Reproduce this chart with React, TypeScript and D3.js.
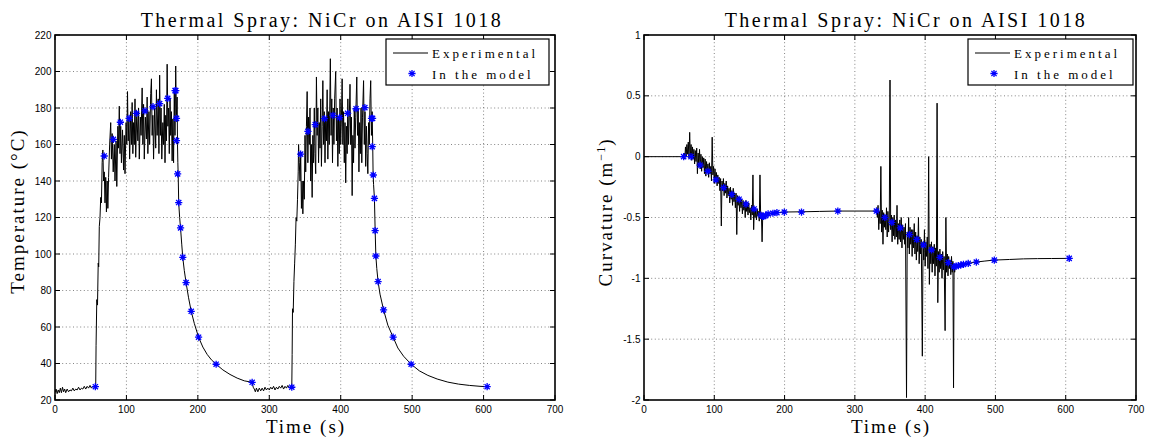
import React from "react";
import * as d3 from "d3";

type P = [number, number];

// ---------- tick values ----------
const timeTicks = [0, 100, 200, 300, 400, 500, 600, 700];
const tempTicks = [20, 40, 60, 80, 100, 120, 140, 160, 180, 200, 220];
const curvTicks = [-2, -1.5, -1, -0.5, 0, 0.5, 1];

// ---------- temperature, experimental (time s, °C) ----------
const tempBase1: P[] = [[0,24],[1.5,26],[3,23.5],[4.5,25.5],[6,24],[7.5,26.5],[9,24],[10.5,27],[12,24.5],[13.5,26],[15,24],[17,26],[19,24.5],[21,25.5],[23,25],[25,26.5],[27,25],[29,26],[31,25.5],[33,27],[35,25.5],[37,26.5],[39,26],[41,27.5],[43,26],[45,27.5],[47,26.5],[49,28],[51,26.5],[53,27.5],[55,27],[57,27.5]];
const tempHeat1: P[] = [[57.5,50],[58.5,75],[59.5,72],[60.5,95],[61.2,93],[62,115],[63,120],[64,131],[65,128],[66,150],[67,157],[68,140],[69,145],[70,128],[71,142],[72,123],[73,140],[74,125],[75,142],[76.5,160],[78,172],[79,152],[80,166],[81.5,145],[83,160],[84,140],[85.5,162],[86.5,137],[88,170],[89,158],[90,181],[91,155],[92,170],[93,150],[94.5,168],[96,146],[97,165],[98,144],[99.5,172],[100.5,160],[101.5,189],[102.5,162],[103.5,175],[104.5,152],[106,178],[107,160],[108,183],[109,155],[110,172],[111,160],[112,185],[113,153],[114.5,178],[116,162],[117,180],[118,152],[119.5,175],[120.5,165],[122,191],[123,160],[124,182],[125,152],[126.5,175],[128,163],[129,186],[130,155],[131.5,178],[132.5,160],[134,188],[135,196],[136,165],[137,176],[138,152],[139.5,180],[141,158],[142,190],[143,165],[144.5,185],[145.5,155],[146.5,198],[147.5,165],[148.5,180],[149.5,152],[151,172],[152,160],[153,182],[154,150],[155,176],[156,162],[157,204],[158,170],[159,180],[160,155],[161,185],[162,165],[163,178],[164,151],[165,174],[166,150],[167,190],[168,165],[169,203],[170,175],[171,186]];
const tempCool1: P[] = [[171.5,160],[172,150],[172.5,143],[173.2,128],[174.5,120],[175.8,114],[177.5,105],[178.9,98],[181,91],[183.5,84.3],[187,76],[190.7,68.6],[195,62],[201,54.4],[207,49],[213,45],[219,42],[225.6,39.6],[235,36.5],[245,34],[255,32],[265,30.5],[276,29.7],[277.5,27]];
const tempBase2: P[] = [[279,26],[280.5,24.5],[282,26.5],[284,24.5],[286,26.5],[288,25],[290,26.5],[292,25],[294,27],[296,25.5],[298,26.5],[300,25.5],[302,27],[304,26],[306,27.5],[308,25.5],[310,27],[312,26],[314,27.5],[316,26.5],[318,28],[320,26],[322,27.5],[324,26.5],[326,28],[328,26.5],[330,27.5],[331.5,27]];
const tempHeat2: P[] = [[332,45],[332.5,70],[333.5,68],[334.5,85],[335.5,95],[336.5,105],[337.5,120],[338.5,118],[339.5,130],[340.5,145],[341,160],[342,150],[343,140],[344,155],[345,125],[346,140],[347,122],[348,140],[349,130],[350,165],[351,145],[352,170],[353,189],[354,150],[355,175],[356,160],[357,180],[358,140],[359,160],[360,131],[361,165],[362,150],[363,180],[364,155],[365,144],[366,197],[367,165],[368,180],[369,150],[370,172],[371,158],[372,185],[373,148],[374,170],[375,195],[376,160],[377,178],[378,150],[379,175],[380,162],[381,190],[382,152],[383,178],[384,160],[385.5,207],[386.5,165],[387.5,185],[388.5,150],[389.5,180],[390.5,160],[391.5,185],[393,200],[394,162],[395,180],[396,148],[397,175],[398,155],[399,185],[400,160],[401,175],[402,196],[403,160],[404,178],[405,150],[406,172],[407,139],[408,170],[409,155],[410,185],[411,160],[412,175],[413,193],[414,160],[415,175],[416,132],[417,165],[418,150],[419,180],[420,158],[421,175],[422.5,197],[423.5,165],[424.5,180],[425.5,145],[426.5,172],[427.5,155],[428.5,180],[429.5,150],[430.5,175],[432,195],[433,160],[434,178],[435,148],[436,170],[437,155],[438,144],[439,172],[440,160],[441,185],[442,195],[443,165],[444,178],[444.8,160]];
const tempCool2: P[] = [[445.3,145],[446,138],[447.2,130.5],[448.2,113],[449.2,99],[450.5,92],[452.3,85],[455,78],[460,69.4],[466,61],[473.4,54.4],[480,48.5],[488,44],[498.6,39.6],[510,36],[522,33.5],[535,31.5],[550,29.8],[565,28.7],[580,28],[595,27.5],[605,27.3]];

// ---------- temperature, model points ----------
const tempModel: P[] = [[56.5,27.3],[68.9,153.7],[81.7,162.8],[91.5,172.2],[103.8,174.3],[114.1,177.1],[125.9,178.4],[137.2,180.7],[146.5,182.4],[157.8,185.3],[168.1,189.5],[169.1,189.5],[170.1,174.3],[170.1,162.1],[171.7,143.9],[173.2,128.2],[175.8,114.3],[178.9,98.2],[183.5,84.3],[190.7,68.6],[201,54.4],[225.6,39.6],[276,29.7],[331.5,27],[343.9,154.7],[354.1,167.2],[364.4,170.9],[377.3,174.2],[389.1,176],[398.4,174.7],[409.7,177.1],[421.5,179.6],[433.8,180.2],[443.1,174.3],[444.6,174.3],[444.1,158.8],[445.6,143.3],[447.2,130.5],[448.2,112.8],[449.2,98.9],[452.3,84.9],[460,69.4],[473.4,54.4],[498.6,39.6],[605,27.3]];

// ---------- curvature, experimental (time s, 1/m) ----------
const curvFlat: P[] = [[0,0],[20,0],[40,0],[56,0]];
const curvNoise1: P[] = [[57,0.03],[58,-0.02],[59,0.08],[60,0],[61,0.1],[62,0.02],[63,0.12],[64,-0.01],[65,0.2],[66,0],[67,0.1],[68,-0.03],[69,0.08],[70,-0.02],[71,0.06],[72,-0.06],[73,0.05],[74,-0.04],[75,0.07],[76,-0.14],[77,0.03],[78,-0.08],[79,0.06],[80,-0.1],[81,0.02],[82,-0.12],[83,0],[84,-0.09],[85,-0.01],[86,-0.14],[87,-0.02],[88,-0.16],[89,-0.04],[90,-0.12],[91,-0.06],[92,-0.17],[93,-0.05],[94,-0.14],[95,-0.08],[96,-0.2],[97,0.16],[98,-0.15],[99,-0.08],[100,-0.22],[101,-0.1],[102,-0.2],[103,-0.13],[104,-0.24],[105,-0.15],[106,-0.22],[107,-0.17],[108,-0.28],[109,-0.18],[110,-0.57],[111,-0.2],[112,-0.28],[113,-0.18],[114,-0.32],[115,-0.22],[116,-0.3],[117,-0.2],[118,-0.34],[119,-0.24],[120,-0.32],[121,-0.26],[122,-0.38],[123,-0.25],[124,-0.35],[125,-0.28],[126,-0.4],[127,-0.26],[128,-0.37],[129,-0.3],[130,-0.42],[131,-0.3],[132,-0.64],[133,-0.32],[134,-0.4],[135,-0.33],[136,-0.45],[137,-0.34],[138,-0.42],[139,-0.35],[140,-0.47],[141,-0.36],[142,-0.44],[143,-0.38],[144,-0.5],[145,-0.36],[146,-0.45],[147,-0.4],[148,-0.48],[149,-0.38],[150,-0.46],[151,-0.42],[152,-0.52],[153,-0.4],[154,-0.48],[155,-0.15],[156,-0.6],[157,-0.42],[158,-0.5],[159,-0.44],[160,-0.52],[161,-0.43],[162,-0.49],[163,-0.45],[164,-0.53],[165,-0.15],[166,-0.5],[167,-0.46],[168,-0.7],[169,-0.47],[170,-0.5],[171,-0.48],[172,-0.49]];
const curvRelax1: P[] = [[175,-0.475],[180,-0.468],[190,-0.46],[200,-0.455],[225,-0.453],[250,-0.45],[276,-0.447],[300,-0.447],[330,-0.447]];
const curvNoise2: P[] = [[331,-0.42],[332,-0.5],[333,-0.4],[334,-0.6],[335,-0.45],[336,-0.55],[337,-0.08],[338,-0.62],[339,-0.44],[340,-0.72],[341,-0.46],[342,-0.58],[343,-0.48],[344,-0.6],[345,-0.42],[346,-0.66],[347,-0.45],[348,-0.62],[349,-0.5],[350,0.63],[351,-0.6],[352,-0.48],[353,-0.7],[354,-0.5],[355,-0.65],[356,-0.48],[357,-0.68],[358,-0.52],[359,-0.66],[360,-0.4],[361,-0.72],[362,-0.55],[363,-0.68],[364,-0.52],[365,-0.7],[366,-0.5],[367,-0.75],[368,-0.56],[369,-0.68],[370,-0.58],[371,-0.72],[372,-0.55],[373.5,-1.98],[374.5,-0.62],[375.5,-0.75],[376.5,-0.5],[377.5,-0.8],[378.5,-0.58],[379.5,-0.72],[380.5,-0.6],[381.5,-0.82],[382.5,-0.6],[383.5,-0.75],[384.5,-0.55],[385.5,-0.8],[386.5,-0.62],[387.5,-0.85],[388.5,-0.65],[389.5,-0.78],[390.5,-0.5],[391.5,-0.88],[392.5,-0.66],[393.5,-0.8],[394.5,-0.68],[396,-1.64],[397,-0.7],[398,-0.85],[399,-0.6],[400,-0.9],[401,-0.7],[402,-0.82],[403,-0.66],[404,-0.92],[405,0],[406,-1.05],[407,-0.72],[408,-0.88],[409,-0.7],[410,-0.95],[411,-0.74],[412,-0.88],[413,-0.72],[414,-0.98],[415,-0.75],[416,-0.9],[417,0.44],[418,-1.2],[419,-0.78],[420,-0.95],[421,-0.76],[422,-0.92],[423,-0.8],[424,-1.0],[425,-0.78],[426,-0.93],[427,-0.82],[428.4,-1.43],[429.5,-0.5],[430.5,-0.95],[431.5,-0.8],[432.5,-0.98],[433.5,-0.82],[434.5,-0.92],[435.5,-0.85],[436.5,-0.97],[437.5,-0.82],[438.5,-0.95],[439.5,-0.86],[440.4,-1.9],[441.2,-0.88],[442,-0.95],[443,-0.9],[444,-0.91]];
const curvRelax2: P[] = [[447,-0.896],[451,-0.89],[455,-0.885],[461,-0.877],[473,-0.866],[485,-0.858],[498,-0.85],[520,-0.845],[540,-0.84],[560,-0.838],[580,-0.837],[605,-0.836]];

// ---------- curvature, model points ----------
const curvModel: P[] = [[56.4,0],[66.9,0],[79.9,-0.07],[90.9,-0.12],[102.4,-0.19],[113.4,-0.255],[124.9,-0.31],[135.3,-0.35],[145.2,-0.39],[156.7,-0.43],[166.1,-0.48],[168.7,-0.49],[170.3,-0.49],[173,-0.485],[176.6,-0.47],[183.4,-0.465],[189.1,-0.46],[199.6,-0.455],[224.1,-0.455],[275.8,-0.447],[330.7,-0.447],[342.7,-0.5],[352.6,-0.54],[364.6,-0.585],[377.7,-0.64],[388.1,-0.68],[397.6,-0.725],[409,-0.767],[421,-0.827],[433,-0.871],[440.9,-0.905],[444,-0.9],[447.2,-0.896],[450.8,-0.89],[454.5,-0.885],[461.3,-0.877],[472.8,-0.866],[498.4,-0.85],[605,-0.836]];

const tempExperimental: P[] = [...tempBase1, ...tempHeat1, ...tempCool1, ...tempBase2, ...tempHeat2, ...tempCool2];
const curvExperimental: P[] = [...curvFlat, ...curvNoise1, ...curvRelax1, ...curvNoise2, ...curvRelax2];

const SERIF = "'Liberation Serif', 'Times New Roman', serif";
const SANS = "'Liberation Sans', Arial, Helvetica, sans-serif";
const BLUE = "#0000ff";

function Asterisk({ cx, cy, r = 3.6 }: { cx: number; cy: number; r?: number }) {
  const d = r * 0.72;
  return (
    <path
      d={`M${cx - r},${cy}H${cx + r}M${cx},${cy - r}V${cy + r}M${cx - d},${cy - d}L${cx + d},${cy + d}M${cx - d},${cy + d}L${cx + d},${cy - d}`}
      stroke={BLUE}
      strokeWidth={1.3}
      fill="none"
    />
  );
}

interface PanelProps {
  id: string;
  xRange: [number, number];
  yDomain: [number, number];
  yTicks: number[];
  exp: P[];
  model: P[];
  titleX: number;
  ylabel: React.ReactNode;
  ylabelX: number;
  ylabelY: number;
  xlabelX: number;
  legendX: number;
  legendW: number;
}

function Panel(p: PanelProps) {
  const top = 35, bottom = 400;
  const x = d3.scaleLinear().domain([0, 700]).range(p.xRange);
  const y = d3.scaleLinear().domain(p.yDomain).range([bottom, top]);
  const line = d3.line<P>().x((d) => x(d[0])).y((d) => y(d[1]));
  const [x0, x1] = p.xRange;
  const tl = 5;
  const lx = p.legendX;
  return (
    <g>
      <defs>
        <clipPath id={`clip-${p.id}`}>
          <rect x={x0} y={top} width={x1 - x0} height={bottom - top} />
        </clipPath>
      </defs>
      <rect x={x0} y={top} width={x1 - x0} height={bottom - top} fill="#fff" />
      {/* grid */}
      <g stroke="#777" strokeWidth={0.9} strokeDasharray="1,2.6">
        {timeTicks.slice(1, -1).map((t) => (
          <line key={"gx" + t} x1={x(t)} x2={x(t)} y1={top} y2={bottom} />
        ))}
        {p.yTicks.slice(1, -1).map((v) => (
          <line key={"gy" + v} x1={x0} x2={x1} y1={y(v)} y2={y(v)} />
        ))}
      </g>
      {/* data */}
      <g clipPath={`url(#clip-${p.id})`}>
        <path d={line(p.exp) || ""} fill="none" stroke="#000" strokeWidth={1} strokeLinejoin="round" />
        {p.model.map((d, i) => (
          <Asterisk key={i} cx={x(d[0])} cy={y(d[1])} />
        ))}
      </g>
      {/* frame */}
      <rect x={x0} y={top} width={x1 - x0} height={bottom - top} fill="none" stroke="#000" strokeWidth={1.6} />
      {/* ticks */}
      <g stroke="#000" strokeWidth={1}>
        {timeTicks.map((t) => (
          <g key={"tx" + t}>
            <line x1={x(t)} x2={x(t)} y1={bottom} y2={bottom - tl} />
            <line x1={x(t)} x2={x(t)} y1={top} y2={top + tl} />
          </g>
        ))}
        {p.yTicks.map((v) => (
          <g key={"ty" + v}>
            <line x1={x0} x2={x0 + tl} y1={y(v)} y2={y(v)} />
            <line x1={x1} x2={x1 - tl} y1={y(v)} y2={y(v)} />
          </g>
        ))}
      </g>
      {/* tick labels */}
      <g fontFamily={SANS} fontSize={10} fill="#000">
        {timeTicks.map((t) => (
          <text key={"lx" + t} x={x(t)} y={412.5} textAnchor="middle">
            {String(t)}
          </text>
        ))}
        {p.yTicks.map((v) => (
          <text key={"ly" + v} x={x0 - 3.5} y={y(v) + 3.6} textAnchor="end">
            {String(v)}
          </text>
        ))}
      </g>
      {/* legend */}
      <rect x={lx} y={39} width={p.legendW} height={46} fill="#fff" stroke="#000" strokeWidth={1.2} />
      <line x1={lx + 7} x2={lx + 42} y1={53} y2={53} stroke="#000" strokeWidth={1} />
      <Asterisk cx={lx + 26} cy={73.5} />
      <g fontFamily={SERIF} fontSize={13} letterSpacing={3} fill="#000">
        <text x={lx + 46} y={57.5}>Experimental</text>
        <text x={lx + 46} y={78.5}>In the model</text>
      </g>
      {/* title and labels */}
      <text x={p.titleX} y={26.5} textAnchor="middle" fontFamily={SERIF} fontSize={20} letterSpacing={2.5} fill="#000">
        Thermal Spray: NiCr on AISI 1018
      </text>
      <text x={p.xlabelX} y={433} textAnchor="middle" fontFamily={SERIF} fontSize={19} letterSpacing={2} fill="#000">
        Time (s)
      </text>
      <text
        transform={`translate(${p.ylabelX},${p.ylabelY}) rotate(-90)`}
        textAnchor="middle"
        fontFamily={SERIF}
        fontSize={19}
        letterSpacing={2}
        fill="#000"
      >
        {p.ylabel}
      </text>
    </g>
  );
}

export default function App() {
  return (
    <svg
      width={1152}
      height={440}
      viewBox="0 0 1152 440"
      style={{ position: "absolute", left: 0, top: 0, background: "#fff" }}
    >
      <rect x={0} y={0} width={1152} height={440} fill="#fff" />
      <Panel
        id="temp"
        xRange={[55, 555]}
        yDomain={[20, 220]}
        yTicks={tempTicks}
        exp={tempExperimental}
        model={tempModel}
        titleX={322}
        ylabel={"Temperature (°C)"}
        ylabelX={24}
        ylabelY={211}
        xlabelX={306}
        legendX={386}
        legendW={163}
      />
      <Panel
        id="curv"
        xRange={[644, 1136]}
        yDomain={[-2, 1]}
        yTicks={curvTicks}
        exp={curvExperimental}
        model={curvModel}
        titleX={906}
        ylabel={
          <>
            Curvature (m
            <tspan dy={-7} fontSize={12} letterSpacing={1}>
              −1
            </tspan>
            <tspan dy={7}>)</tspan>
          </>
        }
        ylabelX={612}
        ylabelY={212}
        xlabelX={891}
        legendX={968}
        legendW={165}
      />
    </svg>
  );
}
